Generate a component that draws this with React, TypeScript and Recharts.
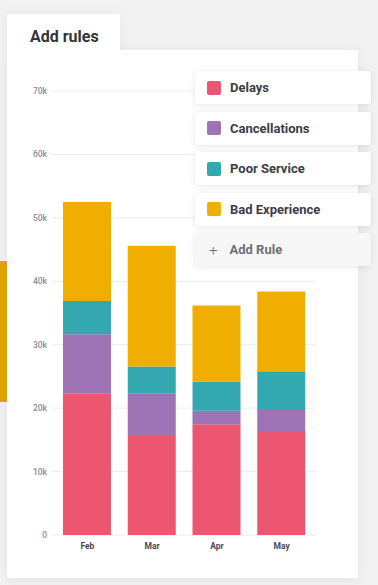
import { BarChart, Bar, XAxis, YAxis, CartesianGrid } from "recharts";

const months = ["Feb", "Mar", "Apr", "May"];
const delays = [22350, 15600, 17450, 16400];
const cancellations = [9300, 6750, 2150, 3300];
const poorService = [5250, 4200, 4600, 6100];
const badExperience = [15600, 19050, 12000, 12600];
const yTicks = [0, 10000, 20000, 30000, 40000, 50000, 60000, 70000];

const series = [
  { key: "delays", name: "Delays", color: "#ED5670", values: delays },
  { key: "cancellations", name: "Cancellations", color: "#9D73B5", values: cancellations },
  { key: "poorService", name: "Poor Service", color: "#33A8B1", values: poorService },
  { key: "badExperience", name: "Bad Experience", color: "#EFAE00", values: badExperience },
];

const chartData = months.map((month, i) => {
  const row: Record<string, string | number> = { month };
  series.forEach((s) => {
    row[s.key] = s.values[i];
  });
  return row;
});

const formatTick = (v: number) => (v === 0 ? "0" : `${v / 1000}k`);

export default function App() {
  return (
    <div
      style={{
        position: "fixed",
        left: 0,
        top: 0,
        width: 378,
        height: 585,
        background: "#f2f2f3",
        overflow: "hidden",
        fontFamily: "Roboto, sans-serif",
      }}
    >
      <div
        style={{
          position: "absolute",
          left: 0,
          top: 261,
          width: 7,
          height: 141,
          background: "#DFA500",
        }}
      />
      <div
        style={{
          position: "absolute",
          left: 7,
          top: 14,
          width: 113,
          height: 40,
          background: "#fff",
          boxShadow: "0 0 12px rgba(0,0,0,0.05)",
        }}
      />
      <div
        style={{
          position: "absolute",
          left: 7,
          top: 50,
          width: 351,
          height: 528,
          background: "#fff",
          boxShadow: "0 2px 12px rgba(0,0,0,0.07)",
        }}
      />
      <div
        style={{
          position: "absolute",
          left: 7,
          top: 14,
          width: 113,
          height: 40,
          background: "#fff",
        }}
      />
      <div
        style={{
          position: "absolute",
          left: 30,
          top: 27,
          fontSize: 16,
          fontWeight: 700,
          color: "#333338",
        }}
      >
        Add rules
      </div>

      <div style={{ position: "absolute", left: 0, top: 0 }}>
        <BarChart
          width={378}
          height={585}
          data={chartData}
          margin={{ top: 91, right: 62, bottom: 20, left: 0 }}
          barSize={48}
        >
          <CartesianGrid vertical={false} stroke="#ececef" />
          <XAxis
            dataKey="month"
            axisLine={false}
            tickLine={false}
            tickSize={0}
            tickMargin={8}
            padding={{ left: 3, right: 2 }}
            tick={{ fontSize: 8.5, fontWeight: 700, fill: "#4a4a55" }}
          />
          <YAxis
            width={52}
            domain={[0, 70000]}
            ticks={yTicks}
            tickFormatter={formatTick}
            axisLine={false}
            tickLine={false}
            tickSize={0}
            tickMargin={5}
            tick={{ fontSize: 8.5, fontWeight: 500, fill: "#8c8c98" }}
          />
          {series.map((s) => (
            <Bar
              key={s.key}
              dataKey={s.key}
              name={s.name}
              stackId="a"
              fill={s.color}
              isAnimationActive={false}
            />
          ))}
        </BarChart>
      </div>

      {series.map((s, i) => (
        <div
          key={s.key}
          style={{
            position: "absolute",
            left: 195,
            top: 71 + i * 40.5,
            width: 176,
            height: 33,
            background: "#fff",
            borderRadius: 3,
            boxShadow: "0 1px 6px rgba(0,0,0,0.1)",
            display: "flex",
            alignItems: "center",
          }}
        >
          <div
            style={{
              width: 14,
              height: 14,
              marginLeft: 12,
              borderRadius: 2,
              background: s.color,
            }}
          />
          <span
            style={{
              marginLeft: 9,
              fontSize: 13,
              fontWeight: 700,
              color: "#3c3c48",
            }}
          >
            {s.name}
          </span>
        </div>
      ))}
      <div
        style={{
          position: "absolute",
          left: 195,
          top: 233,
          width: 176,
          height: 33,
          background: "#f7f7f8",
          borderRadius: 3,
          boxShadow: "0 1px 6px rgba(0,0,0,0.1)",
          display: "flex",
          alignItems: "center",
          color: "#6e6e78",
        }}
      >
        <span style={{ marginLeft: 14, fontSize: 15, fontWeight: 300 }}>+</span>
        <span style={{ marginLeft: 12, fontSize: 13, fontWeight: 700 }}>Add Rule</span>
      </div>
    </div>
  );
}
